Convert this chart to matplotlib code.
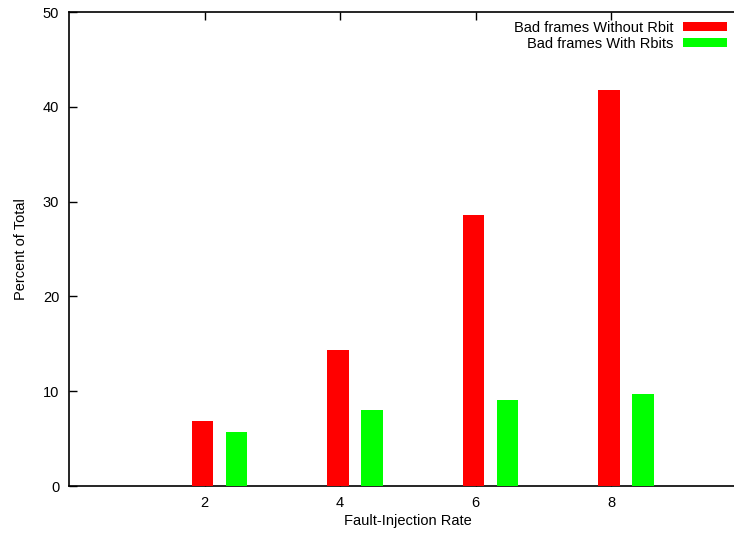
import matplotlib.pyplot as plt
import numpy as np

plt.rcParams['font.family'] = ['Liberation Sans', 'DejaVu Sans']

rates = [2, 4, 6, 8]
without_rbit = [6.9, 14.3, 28.6, 41.8]
with_rbits = [5.7, 8.0, 9.1, 9.7]

labels = ['Bad frames Without Rbit', 'Bad frames With Rbits']

FS = 10.5


def draw_plot():
    fig = plt.figure(figsize=(7.34, 5.33), dpi=100)
    # gnuplot output is cut off at the right edge, so the axes run past the figure
    ax = fig.add_axes([69 / 734, 47 / 533, 677.5 / 734, 474 / 533])

    x = np.array(rates, dtype=float)
    w = 0.32
    ax.bar(x - 0.03, without_rbit, w, color='#ff0000', label=labels[0], zorder=3)
    ax.bar(x + 0.47, with_rbits, w, color='#00ff00', label=labels[1], zorder=3)

    ax.set_xlim(0, 10)
    ax.set_ylim(0, 50)
    ax.set_xticks(rates)
    ax.set_yticks(range(0, 51, 10))
    ax.tick_params(direction='in', length=6, width=1, labelsize=FS,
                   top=True, right=True, pad=7)
    for s in ax.spines.values():
        s.set_linewidth(1.2)

    ax.set_xlabel('Fault-Injection Rate', fontsize=FS, labelpad=3)
    ax.set_ylabel('Percent of Total', fontsize=FS, labelpad=11)

    ax.legend(loc='upper right', bbox_to_anchor=(727 / 734, 1 - 20.5 / 533),
              bbox_transform=fig.transFigure, frameon=False, markerfirst=False,
              fontsize=FS, handlelength=3.0, handleheight=0.55,
              labelspacing=0.15, handletextpad=0.7, borderpad=0, borderaxespad=0)

    fig.savefig('out.png', dpi=100)


def main():
    draw_plot()


if __name__ == "__main__":
    main()
